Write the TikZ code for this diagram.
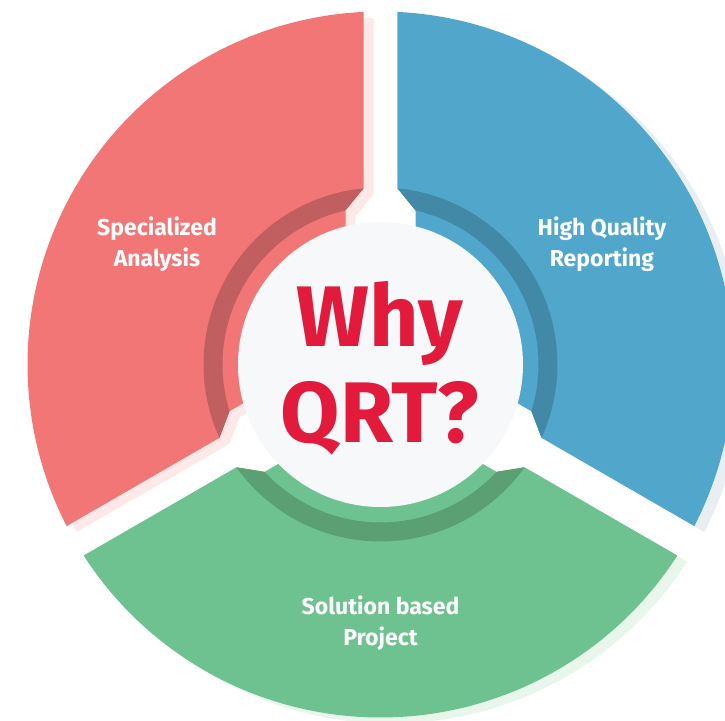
\documentclass[tikz,border=0pt]{standalone}
\usepackage{fontspec}
\setmainfont{Fira Sans}

\definecolor{analysisred}{HTML}{F37676}
\definecolor{analysisdark}{HTML}{C15E60}
\definecolor{analysisshade}{HTML}{FEE9E8}
\definecolor{reportblue}{HTML}{51A7CB}
\definecolor{reportdark}{HTML}{4289A8}
\definecolor{reportshade}{HTML}{E8EEF2}
\definecolor{projectgreen}{HTML}{6EC28F}
\definecolor{projectdark}{HTML}{5AA073}
\definecolor{projectshade}{HTML}{E8F6EC}
\definecolor{discgrey}{HTML}{F6F8FA}
\definecolor{whyred}{HTML}{E21B3C}

% one ring piece, starting at angle #1 and running 120 degrees
\newcommand\piecepath[1]{({#1+2.76}:353) arc[start angle=#1+2.76,end angle=#1+117.24,radius=353]
  -- ({#1+114.49}:177) -- ({#1+107.2}:158) -- ({#1+60}:40.4) -- ({#1+12.8}:158) -- ({#1+5.51}:177) -- cycle}
\newcommand\bandpath[1]{({#1+5.51}:177) arc[start angle=#1+5.51,end angle=#1+114.49,radius=177]
  -- ({#1+107.2}:158) arc[start angle=#1+107.2,end angle=#1+12.8,radius=158] -- cycle}

\begin{document}
\begin{tikzpicture}[x=1pt,y=1pt,
    piece label/.style={text=white,align=center,font=\fontsize{23}{31}\selectfont\bfseries},
    title/.style={text=whyred,anchor=base,font=\fontsize{86}{96}\selectfont\bfseries}]
  \useasboundingbox (0,0) rectangle (725,720);
  \clip (0,0) rectangle (725,720);
  \coordinate (centre) at (380.5,355.5);

  \begin{scope}[shift={(centre)}]
    \foreach \a/\shade in {90/analysisshade,-30/reportshade,210/projectshade}
      \fill[\shade,xshift=10,yshift=-6] \piecepath{\a};
    \foreach \a/\main/\dark in {90/analysisred/analysisdark,-30/reportblue/reportdark,210/projectgreen/projectdark}{
      \fill[\main] \piecepath{\a};
      \fill[\dark] \bandpath{\a};
    }
    \fill[discgrey] (0,0) circle[radius=142.5];

    \node[piece label] (analysis) at (-223.5,120) {Specialized\\Analysis};
    \node[piece label] (reporting) at (221.5,120) {High Quality\\Reporting};
    \node[piece label] (project) at (0,-259) {Solution based\\Project};
  \end{scope}

  \node[title] (why) at (380,373) {Why};
  \node[title] (qrt) at (380,277) {QRT?};
\end{tikzpicture}
\end{document}
